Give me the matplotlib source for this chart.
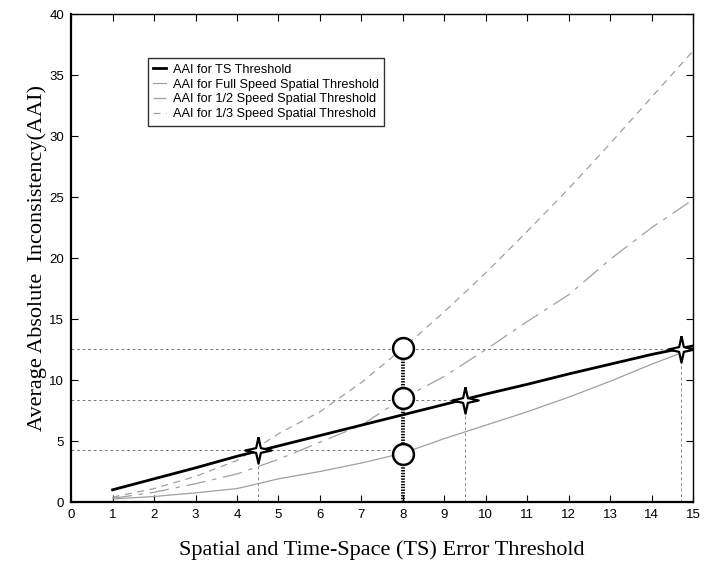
import numpy as np
import matplotlib
matplotlib.use('Agg')
import matplotlib.pyplot as plt

plt.rcParams['lines.scale_dashes'] = False

# 誤差門檻
x = [1, 2, 3, 4, 5, 6, 7, 8, 9, 10, 11, 12, 13, 14, 15]

# 各條曲線 (AAI)
aai_ts = [1.0, 1.9, 2.8, 3.75, 4.6, 5.45, 6.3, 7.15, 8.0, 8.85, 9.65, 10.5, 11.3, 12.1, 12.8]
aai_full = [0.25, 0.45, 0.75, 1.1, 1.9, 2.5, 3.2, 4.0, 5.2, 6.3, 7.4, 8.6, 9.9, 11.3, 12.6]
aai_half = [0.3, 0.8, 1.5, 2.3, 3.5, 4.9, 6.3, 8.5, 10.3, 12.5, 14.8, 17.0, 19.9, 22.5, 24.8]
aai_third = [0.4, 1.1, 2.1, 3.4, 5.6, 7.4, 9.8, 12.6, 15.6, 18.8, 22.2, 25.7, 29.4, 33.2, 37.0]

labels = ['AAI for TS Threshold', 'AAI for Full Speed Spatial Threshold',
          'AAI for 1/2 Speed Spatial Threshold', 'AAI for 1/3 Speed Spatial Threshold']

# 交點 (星號)
star_x = [4.5, 9.5, 14.7]
star_y = [4.25, 8.4, 12.55]
# x=8 的圓圈
circle_x = [8, 8, 8]
circle_y = [3.95, 8.55, 12.65]
# 水平虛線的終點
hline_end = [8, 9.5, 15]

gray = '#a0a0a0'

fig = plt.figure(figsize=(7.11, 5.65), dpi=100)
ax = fig.add_axes([0.100, 0.1115, 0.875, 0.8635])

# 參考虛線
for sy, xe in zip(star_y, hline_end):
    ax.plot([0, xe], [sy, sy], color='#777777', lw=0.7, dashes=(2, 2), zorder=1)
for sx, sy in zip(star_x, star_y):
    ax.plot([sx, sx], [0, sy], color='#888888', lw=0.7, dashes=(2, 2), zorder=1)

ax.plot(x, aai_ts, color='black', lw=2, label=labels[0], zorder=4)
ax.plot(x, aai_full, color=gray, lw=0.9, label=labels[1], zorder=3)
ax.plot(x, aai_half, color=gray, lw=0.9, dashes=(14, 5, 3, 5), label=labels[2], zorder=3)
ax.plot(x, aai_third, color=gray, lw=0.9, dashes=(5, 4), label=labels[3], zorder=3)

# x=8 粗黑點線
ax.plot([8, 8], [0, circle_y[2]], color='black', lw=2.8, ls=(0, (1, 1)), zorder=5)
ax.plot(circle_x, circle_y, ls='none', marker='o', ms=15, mfc='white', mec='black', mew=1.8, zorder=6)

# 四角星
r = 0.18
star_verts = [(0, 1), (r, r), (1, 0), (r, -r), (0, -1), (-r, -r), (-1, 0), (-r, r), (0, 1)]
ax.plot(star_x, star_y, ls='none', marker=star_verts, ms=19, mfc='white', mec='black', mew=1.6, zorder=6)

ax.set_xlim(0, 15)
ax.set_ylim(0, 40)
ax.set_xticks(range(0, 16))
ax.set_yticks(range(0, 41, 5))
ax.tick_params(direction='in', length=5, width=0.8, top=True, right=True, labelsize=9.5, pad=5)
for lab in ax.get_xticklabels() + ax.get_yticklabels():
    lab.set_family('Liberation Sans')
for s in ['left', 'bottom']:
    ax.spines[s].set_linewidth(1.6)
for s in ['top', 'right']:
    ax.spines[s].set_linewidth(1.0)

ax.set_xlabel('Spatial and Time-Space (TS) Error Threshold', family='Liberation Serif', fontsize=16, labelpad=14)
ax.set_ylabel('Average Absolute  Inconsistency(AAI)', family='Liberation Serif', fontsize=16, labelpad=2)

leg = ax.legend(loc='upper left', bbox_to_anchor=(0.123, 0.91), prop={'family': 'Liberation Sans', 'size': 9.2},
                frameon=True, fancybox=False, edgecolor='black', handlelength=1.0, handletextpad=0.5,
                borderpad=0.45, labelspacing=0.22, borderaxespad=0)
leg.get_frame().set_linewidth(1.0)

fig.savefig('out.png', dpi=100)
